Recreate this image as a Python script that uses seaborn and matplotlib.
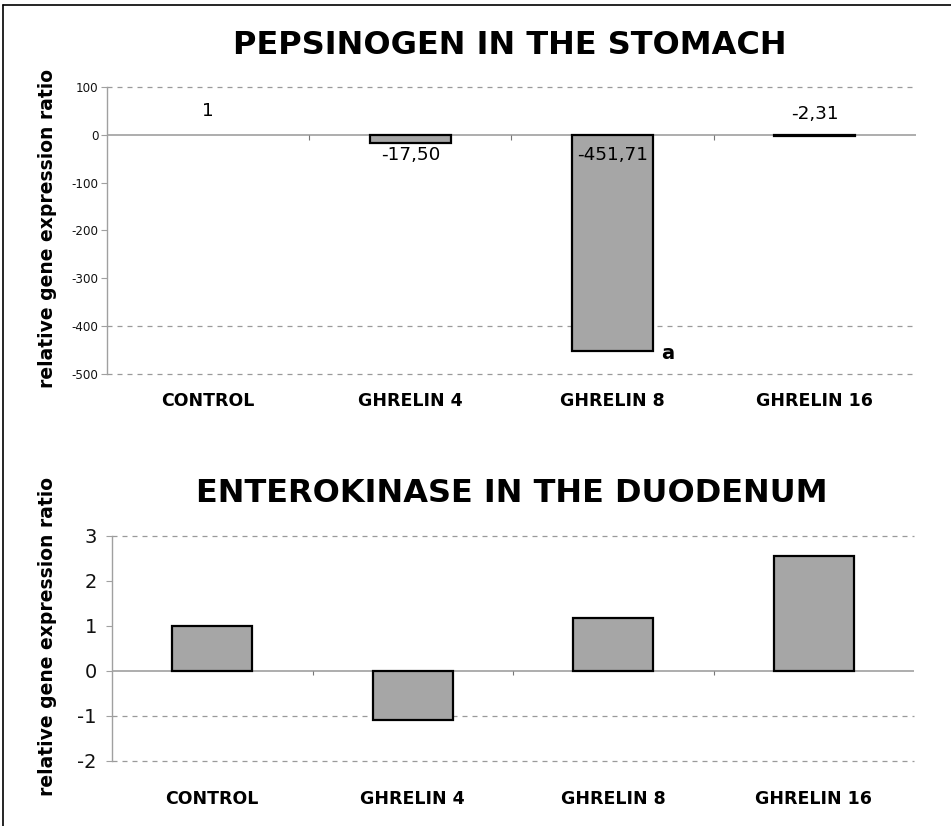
import matplotlib
matplotlib.use("Agg")
import matplotlib.pyplot as plt
from matplotlib.lines import Line2D
import seaborn as sns
import pandas as pd

sns.set_style("white")
plt.rcParams["font.family"] = ["DejaVu Sans"]
plt.rcParams["axes.unicode_minus"] = False
plt.rcParams["text.color"] = "black"

# ── Data ─────────────────────────────────────────────────────────────────────
groups = ["CONTROL", "GHRELIN 4", "GHRELIN 8", "GHRELIN 16"]
pepsinogen = [1.0, -17.50, -451.71, -2.31]
pepsinogen_labels = ["1", "-17,50", "-451,71", "-2,31"]
enterokinase = [1.0, -1.1, 1.18, 2.55]

pep_ticks = [100, 0, -100, -200, -300, -400, -500]
pep_grid = [100, -400, -500]
ent_ticks = [3, 2, 1, 0, -1, -2]
ent_grid = [3, -1, -2]

BAR_CLR = "#a6a6a6"
GRID_CLR = "#9a9a9a"
AXIS_CLR = "#a0a0a0"

fig = plt.figure(figsize=(9.51, 8.26), dpi=100)

# frame lines (left + top) like the scanned figure
fig.add_artist(Line2D([0.0035, 0.0035], [0, 0.994], transform=fig.transFigure,
                      color="black", linewidth=1.2))
fig.add_artist(Line2D([0.0035, 1.0], [0.994, 0.994], transform=fig.transFigure,
                      color="black", linewidth=1.2))


def style_axes(ax, ticks, grid, ylim, tick_size, xpad, mark, ypad):
    for v in grid:
        ax.axhline(v, color=GRID_CLR, linestyle=(0, (4, 4)), linewidth=0.9,
                   zorder=0, clip_on=False)
    ax.axhline(0, color=AXIS_CLR, linewidth=1.2, zorder=1)
    ax.vlines([0.5, 1.5, 2.5], 0, -mark, color="#777777", linewidth=0.8)
    ax.set_ylim(*ylim)
    ax.set_xlim(-0.5, 3.5)
    ax.set_yticks(ticks)
    ax.tick_params(axis="y", length=4, width=0.8, color=AXIS_CLR,
                   labelsize=tick_size, labelcolor="#111111", pad=ypad, left=True)
    ax.tick_params(axis="x", length=0, pad=xpad, labelcolor="black")
    for lab in ax.get_xticklabels():
        lab.set_fontweight("bold")
        lab.set_fontsize(12.5)
    for s in ["top", "right", "bottom"]:
        ax.spines[s].set_visible(False)
    ax.spines["left"].set_color(AXIS_CLR)
    ax.spines["left"].set_linewidth(1.0)
    ax.set_xlabel("")
    ax.set_ylabel("")


# ── Top panel — Pepsinogen ───────────────────────────────────────────────────
ax1 = fig.add_axes([0.1125, 0.5472, 0.8507, 0.3475])
df1 = pd.DataFrame({"group": groups, "value": pepsinogen})
sns.barplot(data=df1, x="group", y="value", color=BAR_CLR, edgecolor="black",
            linewidth=1.6, width=0.4, saturation=1, ax=ax1, zorder=2)
ax1.patches[0].set_linewidth(0)      # control bar is hidden behind the axis line
ax1.patches[0].set_facecolor("none")
style_axes(ax1, pep_ticks, pep_grid, (-500, 100), 8.6, 13, 10, 2)

offsets = [24, -20, -20, 21]
for i, (lab, off) in enumerate(zip(pepsinogen_labels, offsets)):
    ax1.annotate(lab, xy=(i, 0), xytext=(0, off * 0.72), textcoords="offset points",
                 ha="center", va="center", fontsize=13.2, color="black", zorder=3)
ax1.annotate("a", xy=(2.2, pepsinogen[2]), xytext=(6, -2), textcoords="offset points",
             ha="left", va="center", fontsize=14, fontweight="bold")

# ── Bottom panel — Enterokinase ──────────────────────────────────────────────
ax2 = fig.add_axes([0.1178, 0.0787, 0.8433, 0.2724])
df2 = pd.DataFrame({"group": groups, "value": enterokinase})
sns.barplot(data=df2, x="group", y="value", color=BAR_CLR, edgecolor="black",
            linewidth=1.6, width=0.4, saturation=1, ax=ax2, zorder=2)
style_axes(ax2, ent_ticks, ent_grid, (-2, 3), 14, 21, 0.1, 7)

# ── Titles and axis labels ───────────────────────────────────────────────────
fig.text(0.536, 0.9455, "PEPSINOGEN IN THE STOMACH", ha="center", va="center",
         fontsize=23, fontweight="bold", color="black")
fig.text(0.538, 0.403, "ENTEROKINASE IN THE DUODENUM", ha="center", va="center",
         fontsize=23, fontweight="bold", color="black")
fig.text(0.05, 1 - 228 / 826, "relative gene expression ratio", rotation=90,
         ha="center", va="center", fontsize=13.5, fontweight="bold", color="black")
fig.text(0.05, 1 - 637 / 826, "relative gene expression ratio", rotation=90,
         ha="center", va="center", fontsize=13.5, fontweight="bold", color="black")

fig.savefig("out.png", dpi=100)
